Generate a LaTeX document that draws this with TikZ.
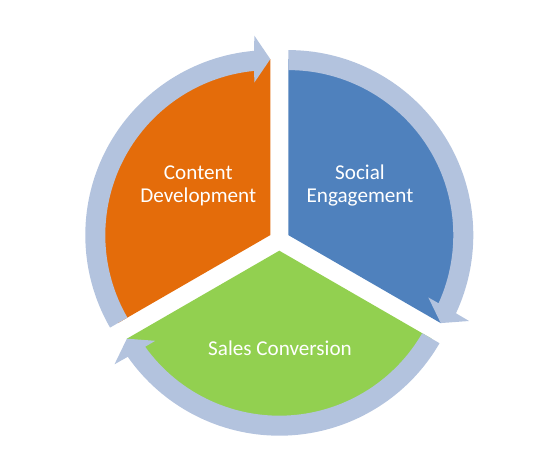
\documentclass[tikz,border=0pt]{standalone}
\usepackage{fontspec}
\setmainfont{Carlito}
\usetikzlibrary{calc}
\definecolor{segOrange}{HTML}{E46C0A}
\definecolor{segBlue}{HTML}{4F81BD}
\definecolor{segGreen}{HTML}{92D050}
\definecolor{ringBlue}{HTML}{B3C3DE}

\begin{document}
\begin{tikzpicture}[
    x=1bp, y=1bp,
    every node/.style={font=\fontsize{21.2}{23.5}\selectfont, text=white, align=center},
    seg/.style={fill=#1},
    ring/.style={fill=ringBlue},
  ]
  \useasboundingbox (-279.3,-225.7) rectangle (274.7,240.3);
  % pie segments, each pushed out along its bisector
  \foreach \s/\col in {90/segOrange, -30/segBlue, 210/segGreen} {
    \coordinate (ap) at (\s+60:10.4);
    \fill[seg=\col] (ap) -- ($(ap)+(\s:176)$)
      arc[start angle=\s, end angle=\s+120, radius=176] -- cycle;
  }
  % cycle arrows round the rim
  \foreach \s in {90, -30, 210} {
    \coordinate (ap) at (\s+60:10.4);
    \coordinate (tip) at ($(ap)+(\s:176)$);
    \fill[ring] ($(ap)+(\s+120:185)$)
      arc[start angle=\s+120, end angle=\s+5, radius=185]
      -- ($(tip)+(\s+90:16)+(\s:23.5)$) -- (tip)
      -- ($(tip)+(\s+90:16)+(\s+180:23.5)$)
      -- ($(ap)+(\s+5.6:165)$)
      arc[start angle=\s+5.6, end angle=\s+120, radius=165] -- cycle;
  }
  \node (content) at (-81,54.3) {Content\\Development};
  \node (social) at (80.7,55) {Social\\Engagement};
  \node (sales) at (0.7,-108) {Sales Conversion};
\end{tikzpicture}
\end{document}
